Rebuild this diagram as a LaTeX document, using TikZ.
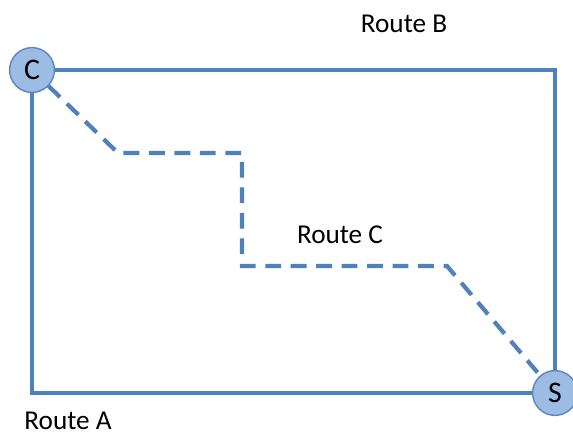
\documentclass[tikz,border=0pt]{standalone}
\usepackage{fontspec}
\setmainfont{Carlito}
\usepackage{xcolor}
\definecolor{RouteBlue}{HTML}{4F81BD}
\definecolor{CityFill}{HTML}{9DBCE3}
\definecolor{CityEdge}{HTML}{5B86C0}
\usetikzlibrary{positioning}

\begin{document}
\begin{tikzpicture}[x=0.02cm, y=-0.02cm, every node/.style={font=\fontsize{15.5}{18}\selectfont, align=center, inner sep=1pt}, route/.style={draw=RouteBlue, line width=2.4pt}, altroute/.style={route, dash pattern=on 9pt off 5.5pt}, city/.style={circle, draw=CityEdge, line width=0.8pt, fill=CityFill, minimum size=25.5pt, inner sep=0pt, font=\fontsize{17}{20}\selectfont}]
        \useasboundingbox (0,0) rectangle (573,437);
        \node[city] (C) at (32,70) {C};
        \node[city] (S) at (555,393) {S};
        \coordinate (topright) at (555,70);
        \coordinate (bottomleft) at (32,393);
        \coordinate (stepa) at (118,153);
        \coordinate (stepb) at (242,153);
        \coordinate (stepc) at (242,266);
        \coordinate (stepd) at (447,266);
        \draw[route] (C) -- (topright) -- (S);
        \draw[route] (C) -- (bottomleft) -- (S);
        \draw[altroute] (C) -- (stepa) -- (stepb) -- (stepc) -- (stepd) -- (S);
        \node (labelB) at (404,24) {Route B};
        \node (labelC) at (340,235) {Route C};
        \node (labelA) at (68,421) {Route A};
    \end{tikzpicture}
\end{document}
